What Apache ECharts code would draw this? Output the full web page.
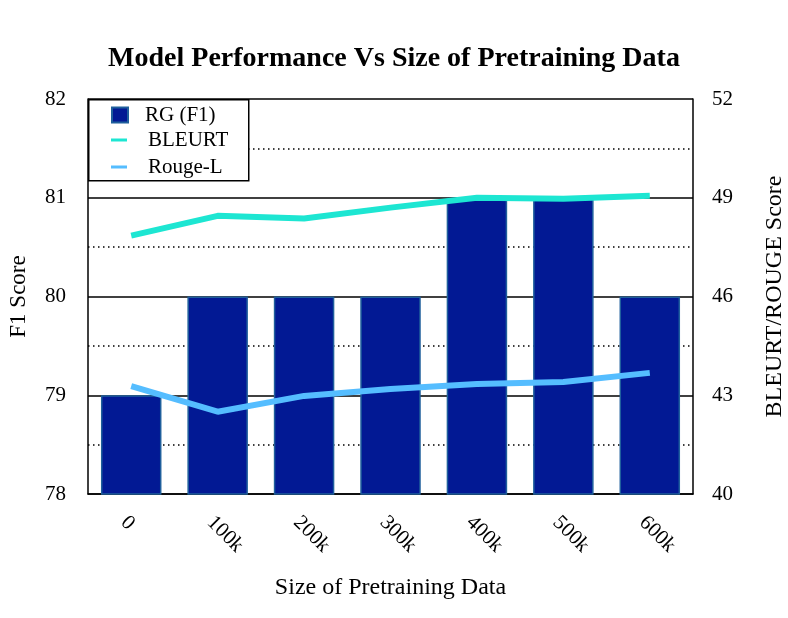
<!DOCTYPE html>
<html>
<head>
<meta charset="utf-8">
<script src="https://cdn.jsdelivr.net/npm/echarts@6/dist/echarts.min.js"></script>
<style>
  html, body { margin: 0; padding: 0; background: #fff; }
  #chart { width: 788px; height: 618px; }
</style>
</head>
<body>
<div id="chart"></div>
<script>
    // data
    var sizes = ['0', '100k', '200k', '300k', '400k', '500k', '600k'];
    var rgF1 = [79, 80, 80, 80, 81, 81, 80];
    var bleurt = [47.85, 48.45, 48.37, 48.7, 49.0, 48.97, 49.06];
    var rougeL = [43.28, 42.5, 42.98, 43.19, 43.34, 43.4, 43.68];

    var serif = 'Liberation Serif';
    var chart = echarts.init(document.getElementById('chart'));

    var option = {
        animation: false,
        backgroundColor: '#fff',
        textStyle: { fontFamily: serif, color: '#000' },
        title: {
            text: 'Model Performance Vs Size of Pretraining Data',
            left: 'center',
            top: 40,
            textStyle: { fontFamily: serif, fontSize: 28, fontWeight: 'bold', color: '#000' }
        },
        grid: { left: 88, right: 95, top: 99, bottom: 124, outerBoundsMode: 'none' },
        graphic: [{
            type: 'rect',
            left: 88, top: 99,
            z: 100,
            shape: { width: 160, height: 81 },
            style: { fill: '#fff', stroke: '#000', lineWidth: 1.5 }
        }],
        legend: [{
            data: ['RG (F1)'],
            left: 106, top: 99,
            z: 110,
            itemWidth: 16, itemHeight: 15,
            icon: 'rect',
            textStyle: { fontFamily: serif, fontSize: 21, color: '#000', lineHeight: 22, padding: [0, 0, 0, 12] }
        }, {
            data: ['BLEURT', 'Rouge-L'],
            orient: 'vertical',
            left: 106, top: 124,
            z: 110,
            itemGap: 5,
            itemWidth: 16, itemHeight: 3,
            icon: 'rect',
            textStyle: { fontFamily: serif, fontSize: 21, color: '#000', lineHeight: 22, padding: [0, 0, 0, 16] }
        }],
        xAxis: {
            type: 'category',
            data: sizes,
            name: 'Size of Pretraining Data',
            nameLocation: 'middle',
            nameGap: 82,
            nameTextStyle: { fontFamily: serif, fontSize: 24, color: '#000' },
            axisLine: { lineStyle: { color: '#000', width: 1.5 } },
            axisTick: { show: false },
            axisLabel: { rotate: -45, margin: 18, verticalAlign: 'top', fontFamily: serif, fontSize: 21, color: '#000' },
            splitLine: { show: false }
        },
        yAxis: [{
            type: 'value',
            min: 78, max: 82, interval: 1,
            name: 'F1 Score',
            nameLocation: 'middle',
            nameGap: 58,
            nameTextStyle: { fontFamily: serif, fontSize: 23, color: '#000' },
            axisLine: { show: true, lineStyle: { color: '#000', width: 1.5 } },
            axisTick: { show: false },
            axisLabel: { margin: 22, fontFamily: serif, fontSize: 21, color: '#000' },
            splitLine: { show: true, lineStyle: { color: '#000', width: 1.5 } },
            minorTick: { show: false, splitNumber: 2 },
            minorSplitLine: { show: true, lineStyle: { color: '#000', width: 1.5, type: [1.5, 3.5] } }
        }, {
            type: 'value',
            min: 40, max: 52, interval: 3,
            name: 'BLEURT/ROUGE Score',
            nameLocation: 'middle',
            nameGap: 70,
            nameTextStyle: { fontFamily: serif, fontSize: 24, color: '#000' },
            axisLine: { show: true, lineStyle: { color: '#000', width: 1.5 } },
            axisTick: { show: false },
            axisLabel: { margin: 19, fontFamily: serif, fontSize: 21, color: '#000' },
            splitLine: { show: false }
        }],
        series: [{
            name: 'RG (F1)',
            type: 'bar',
            yAxisIndex: 0,
            data: rgF1,
            barWidth: '70%',
            itemStyle: { color: '#021994', borderColor: '#1f5f9c', borderWidth: 1.5 }
        }, {
            name: 'BLEURT',
            type: 'line',
            yAxisIndex: 1,
            data: bleurt,
            symbol: 'none',
            itemStyle: { color: '#1de6d2' },
            lineStyle: { color: '#1de6d2', width: 6 }
        }, {
            name: 'Rouge-L',
            type: 'line',
            yAxisIndex: 1,
            data: rougeL,
            symbol: 'none',
            itemStyle: { color: '#55bdff' },
            lineStyle: { color: '#55bdff', width: 6 }
        }]
    };

    chart.setOption(option);
</script>
</body>
</html>
